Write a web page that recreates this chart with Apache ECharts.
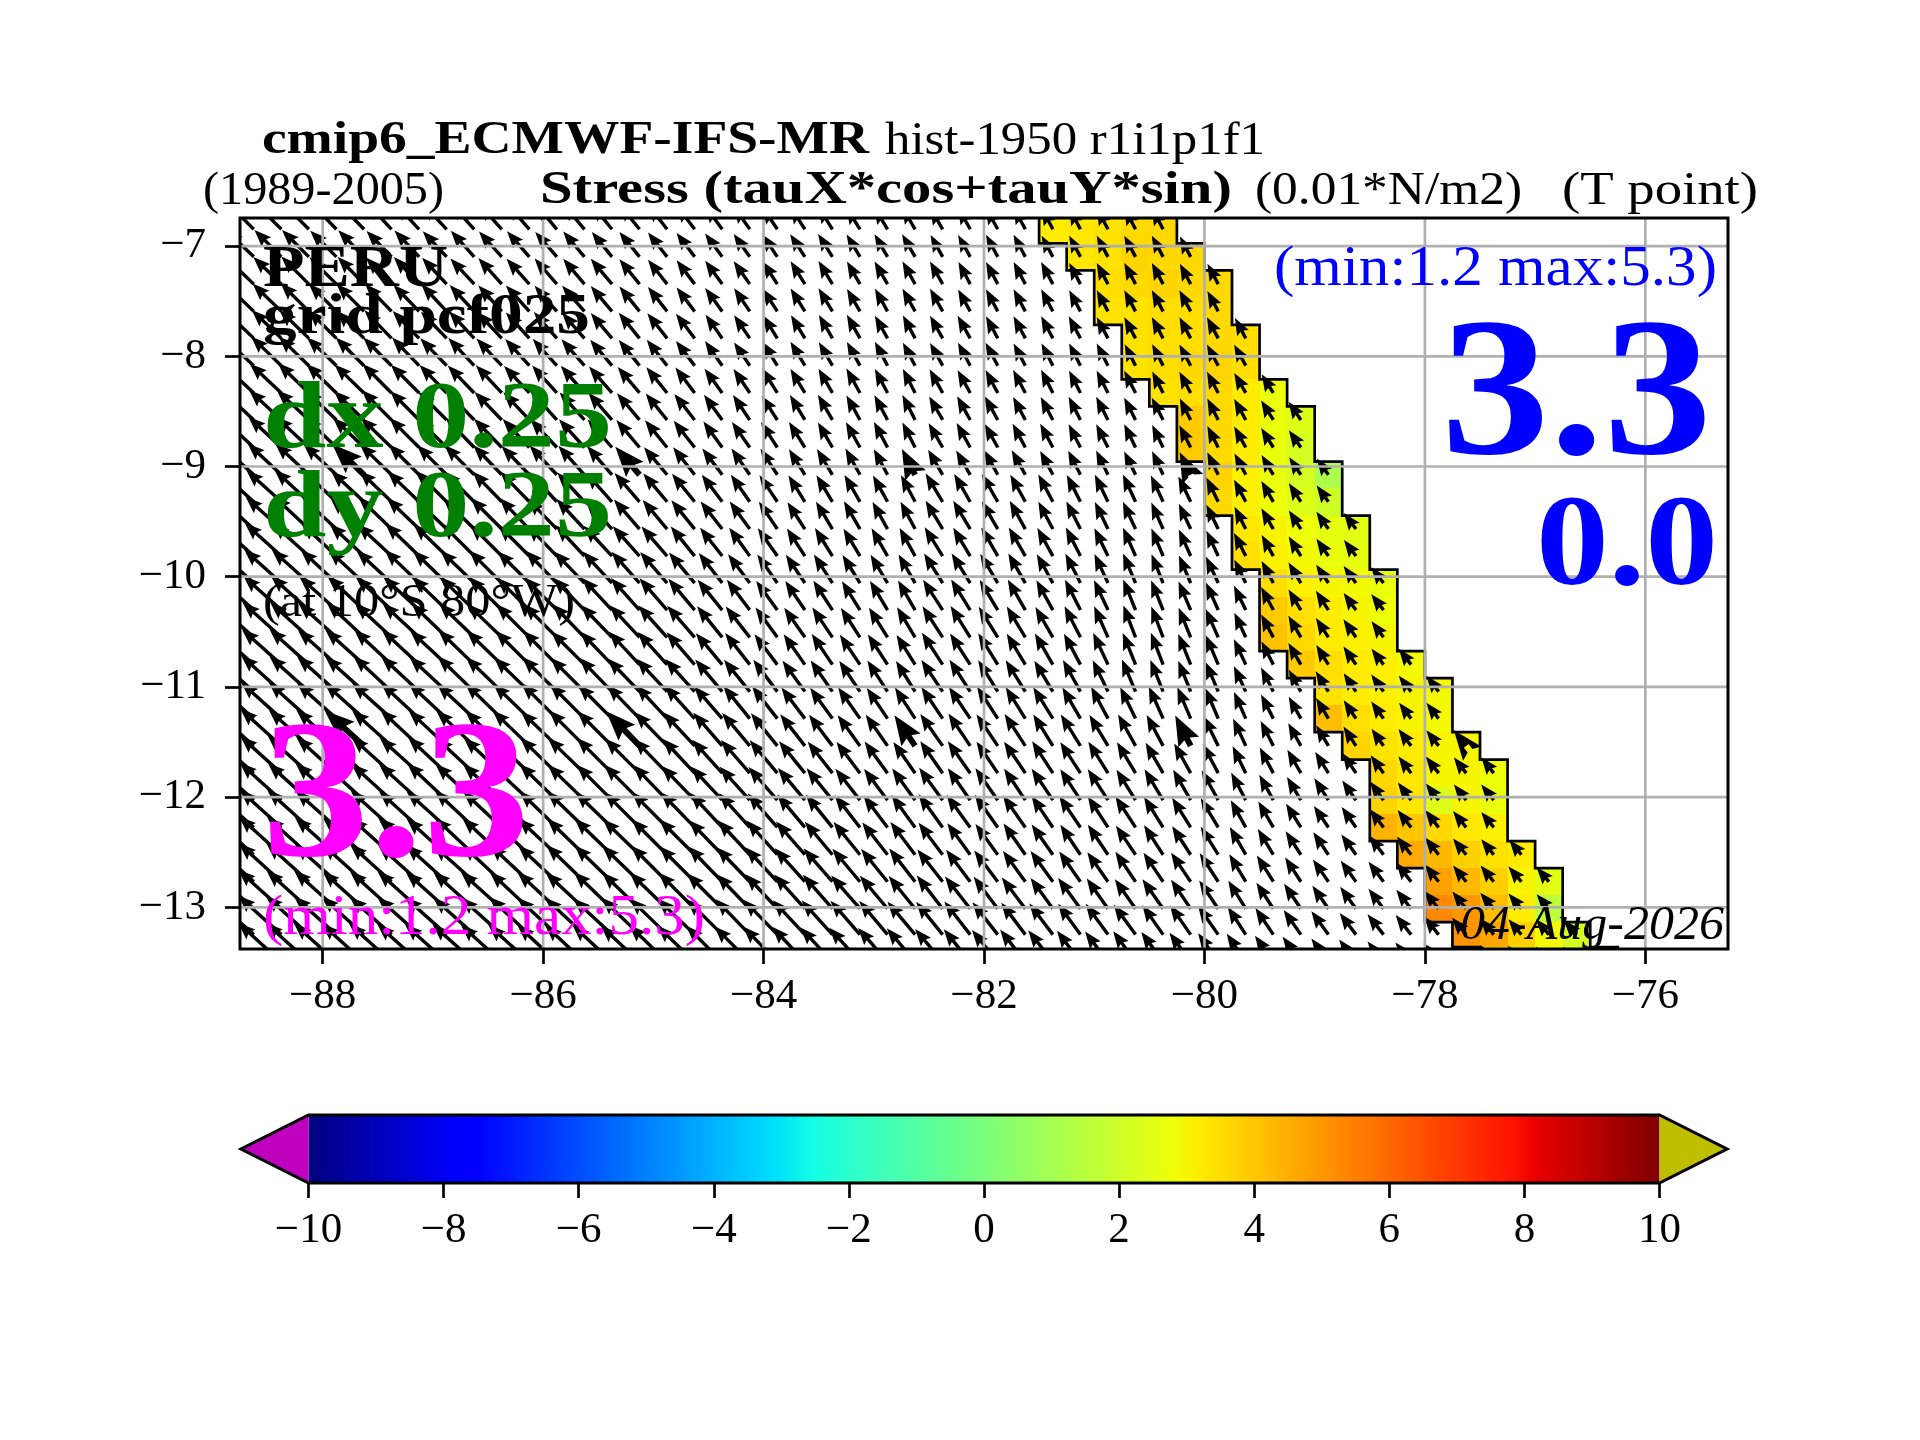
<!DOCTYPE html>
<html><head><meta charset="utf-8">
<script src="https://cdn.jsdelivr.net/npm/echarts@6/dist/echarts.min.js"></script>
<style>html,body{margin:0;padding:0;background:#fff}#c{width:1920px;height:1440px}</style></head>
<body><div id="c"></div>
<script>
const lonTicks=[-88,-86,-84,-82,-80,-78,-76];
const latTicks=[-13,-12,-11,-10,-9,-8,-7];
const cbarTicks=[-10,-8,-6,-4,-2,0,2,4,6,8,10];
const lonStart=-88.75, lonStep=0.25;
const latEdges=[-6.72,-6.975,-7.22,-7.47,-7.715,-7.96,-8.21,-8.455,-8.70,-8.955,-9.195,-9.445,-9.69,-9.935,-10.18,-10.425,-10.675,-10.92,-11.165,-11.41,-11.66,-11.905,-12.15,-12.40,-12.645,-12.89,-13.135,-13.36,-13.63];
const oceanWest=[-81.5,-81.25,-81,-81,-80.75,-80.75,-80.5,-80.25,-80.25,-80,-80,-79.75,-79.75,-79.5,-79.5,-79.5,-79.25,-79,-79,-78.75,-78.5,-78.5,-78.5,-78.25,-78,-78,-77.75,-77.5];
const tauAlong=[
[3.2,3.3,3.4,3.6,3.6],[3.3,3.4,3.7,3.6,3.6],[3.5,3.6,3.7,3.6,3.6],[3.4,3.4,3.5,3.5,3.6],
[3.4,3.5,3.5,3.6,3.5],[3.4,3.5,3.6,3.7,3.5],[3.4,3.5,3.6,3.2,2.7],[3.9,3.6,3.2,2.7,2.4],
[3.9,3.6,3.2,2.7,2.2],[3.7,3.1,2.7,2.2,1.2],[3.6,3.1,2.8,2.4,2.0],[3.3,3.0,2.8,2.6,2.5],
[3.5,3.1,2.9,2.7,2.6],[3.5,3.1,3.0,2.9,2.7],[3.9,3.5,3.2,3.0,2.8],[4.1,3.6,3.2,3.1,3.0],
[3.9,3.5,3.2,3.1,2.9],[3.4,3.2,3.1,3.0,2.9],[4.2,3.5,3.2,3.0,2.9],[3.7,3.4,3.2,3.0,3.0],
[3.6,3.3,3.0,3.0,2.8],[3.7,3.3,2.4,3.0,2.7],[4.4,4.0,3.6,3.3,3.1],[4.6,4.3,3.8,3.4,3.2],
[4.8,4.3,3.8,3.0,2.5],[5.3,5.0,4.2,3.2,1.6],[5.1,4.7,3.8,2.9,2.2],[3.0,3.0,2.6,2.2,2.0]];
const tauSpeed=[
[38,38,37,37,36,36,35,35,35,34,34,33,33,32,32,31,30,29,28,27,27,27,26,26,26,25,25,25,25,24,24,24,24,24],
[39,38,38,37,37,36,36,35,35,34,34,33,33,32,32,31,30,29,28,27,27,27,26,26,26,25,25,25,25,24,24,24,24,24,23],
[40,39,39,38,38,37,37,36,35,35,34,34,33,33,32,31,30,29,28,27,27,27,26,26,26,26,25,25,25,25,24,24,24,24,23,23],
[41,40,40,39,39,38,37,37,36,35,35,34,34,33,32,31,30,29,28,27,27,27,26,26,26,26,25,25,25,25,24,24,24,24,24,23],
[42,41,41,40,39,39,38,37,37,36,35,35,34,33,33,32,31,29,28,27,27,27,27,26,26,26,26,25,25,25,25,24,24,24,24,24,23],
[43,42,42,41,40,40,39,38,38,37,36,36,35,34,33,33,31,30,28,28,28,27,27,27,26,26,26,26,25,25,25,25,24,24,24,24,24],
[44,43,43,42,41,41,40,39,38,38,37,37,36,35,34,33,32,30,29,29,28,28,28,27,27,27,26,26,26,26,25,25,25,24,24,24,23,22],
[45,44,44,43,42,42,41,40,40,39,38,38,37,36,35,34,33,31,30,29,29,29,28,28,28,27,27,27,26,26,26,26,25,25,24,24,24,23,22],
[46,45,45,44,43,43,42,41,41,40,39,39,38,37,36,35,34,32,31,30,30,29,29,29,28,28,28,27,27,27,26,26,26,25,25,24,24,23,21],
[47,46,46,45,44,44,43,42,42,41,40,40,39,38,37,36,35,33,32,31,30,30,30,29,29,29,28,28,28,27,27,27,26,26,25,25,24,23,21,20],
[48,47,47,46,45,45,44,44,43,42,42,41,40,39,38,37,36,34,33,32,31,31,31,30,30,33,32,32,31,31,30,30,30,29,28,27,25,24,22,20],
[49,48,48,47,46,46,45,45,44,44,43,42,41,40,39,38,37,35,34,33,32,32,32,31,31,33,33,32,32,31,31,30,30,29,28,27,25,24,22,21,20],
[50,49,49,48,47,47,47,46,46,45,44,43,42,41,40,39,38,36,35,34,33,33,32,32,32,34,33,33,33,32,32,31,31,30,29,28,26,24,23,21,20],
[51,50,50,49,49,48,48,47,47,46,45,45,44,43,42,41,40,38,36,35,34,34,33,33,33,35,35,34,34,33,33,32,32,31,30,29,26,25,24,22,21,20],
[52,51,51,50,50,49,49,48,48,47,46,46,45,44,43,42,41,39,38,36,35,35,34,34,34,36,36,35,35,34,34,33,33,32,31,30,27,26,24,23,21,20],
[53,52,52,51,51,50,50,49,49,48,47,47,46,45,44,43,42,40,39,37,36,36,35,35,35,37,37,36,36,35,35,34,34,33,32,31,27,26,25,23,22,20],
[54,53,53,52,52,51,51,50,50,49,48,48,47,46,45,44,43,41,40,38,37,37,36,36,35,38,37,37,36,36,35,35,34,34,33,32,28,26,25,23,22,20,20],
[54,54,53,53,52,52,52,51,51,50,49,49,48,47,46,45,44,42,41,40,38,38,37,37,36,38,38,37,37,36,36,35,35,34,33,32,28,27,25,24,22,21,20,20],
[55,54,54,53,53,53,52,52,51,51,50,50,49,48,47,46,45,43,42,41,39,38,38,37,37,38,38,38,37,37,36,36,35,35,34,33,29,27,25,24,22,21,20,20],
[55,55,54,54,53,53,53,52,52,51,51,50,50,49,48,47,46,44,43,42,40,39,38,38,37,39,39,38,38,37,37,36,36,35,34,33,30,28,26,24,23,21,21,20,20],
[56,55,55,54,54,54,53,53,52,52,52,51,51,50,49,48,47,45,44,43,41,40,39,39,38,39,39,38,38,38,37,37,36,35,34,33,30,29,27,25,24,22,21,21,20,20],
[56,56,55,55,55,54,54,54,53,53,52,52,51,50,50,49,48,46,45,44,42,41,40,39,39,40,39,39,38,38,37,37,36,36,35,34,31,29,27,26,24,23,22,21,20,20],
[57,56,56,55,55,55,54,54,54,53,53,52,52,51,50,50,49,47,46,45,43,42,41,40,40,41,40,40,39,38,38,37,37,36,35,34,31,30,28,26,25,23,22,22,21,20],
[57,57,56,56,55,55,55,54,54,54,53,53,52,52,51,50,50,48,47,46,44,43,42,41,41,40,39,38,38,37,36,36,35,35,34,33,32,30,28,27,25,24,23,22,21,20,19],
[58,57,57,56,56,56,55,55,55,54,54,53,53,52,52,51,50,49,48,47,45,44,43,42,42,41,40,39,38,38,37,36,36,35,35,34,32,31,29,27,26,25,24,22,21,21,20,19],
[58,58,57,57,56,56,56,55,55,55,54,54,53,53,52,52,51,50,48,47,46,45,44,43,42,42,41,40,39,38,38,37,36,36,35,34,33,31,30,28,27,25,24,23,22,21,20,19],
[58,58,58,57,57,56,56,56,55,55,55,54,54,53,53,52,52,50,49,48,47,46,45,44,43,42,42,41,40,39,38,38,37,36,36,35,33,32,30,29,27,26,25,23,22,21,20,20,19],
[58,58,58,57,57,57,56,56,56,55,55,54,54,54,53,53,52,51,50,49,48,47,46,45,44,43,42,41,41,40,39,38,38,37,36,35,34,32,31,29,28,26,25,24,23,22,21,20,20,19]];
const tauAngle=[
[135,135,135,134,134,133,133,133,132,132,131,130,130,129,129,128,127,126,125,124,123,122,122,121,120,120,119,119,118,118,118,118,118,118],
[136,135,135,135,134,134,133,133,132,132,131,131,130,129,129,128,127,126,125,124,123,122,121,120,120,119,119,118,118,118,118,118,118,118,118],
[136,136,135,135,134,134,133,133,133,132,132,131,130,130,129,128,127,126,125,123,122,121,120,120,119,119,118,118,118,118,118,118,118,118,118,118],
[136,136,135,135,135,134,134,133,133,132,132,131,131,130,129,128,127,126,124,123,122,121,120,119,119,119,119,118,118,118,118,118,118,118,118,118],
[136,136,136,135,135,134,134,134,133,133,132,131,131,130,129,128,127,125,124,122,121,120,119,119,118,119,119,118,118,118,118,118,118,118,118,118,118],
[137,136,136,136,135,135,134,134,133,133,132,132,131,130,129,128,127,125,124,122,121,120,119,118,118,119,118,118,118,117,117,117,117,117,118,118,119],
[137,137,136,136,136,135,135,134,134,133,133,132,131,131,130,129,127,126,124,122,121,120,119,118,117,119,119,118,118,117,117,117,117,117,118,118,120,122],
[137,137,137,136,136,135,135,135,134,134,133,132,132,131,130,129,128,126,124,123,121,120,119,118,117,120,119,119,118,118,117,117,117,117,117,117,119,122,124],
[137,137,137,136,136,136,135,135,134,134,133,133,132,131,130,129,128,126,125,123,122,120,119,118,117,120,119,119,118,118,117,117,116,116,117,117,119,122,125],
[138,137,137,137,136,136,135,135,135,134,134,133,132,131,131,130,128,127,125,123,122,121,119,118,117,120,120,119,119,118,117,116,116,115,116,116,118,121,124,126],
[138,138,137,137,137,136,136,135,135,134,134,133,133,132,131,130,129,127,125,124,122,121,120,119,118,121,120,120,119,118,117,116,115,115,116,116,118,120,123,126],
[138,138,137,137,137,136,136,136,135,135,134,134,133,132,131,130,129,128,126,124,123,121,120,119,118,121,121,120,119,118,117,116,115,114,115,116,117,120,123,125,127],
[138,138,138,137,137,137,136,136,135,135,135,134,133,133,132,131,129,128,126,125,123,122,121,120,119,122,121,120,120,119,117,116,114,113,114,115,117,119,122,125,127],
[138,138,138,137,137,137,136,136,136,135,135,134,134,133,132,131,130,128,127,125,124,123,122,121,120,122,122,121,120,119,117,115,113,112,113,115,116,118,121,124,126,128],
[138,138,138,138,137,137,137,136,136,135,135,135,134,133,132,131,130,129,127,126,124,123,122,121,120,123,122,121,120,119,117,115,112,112,113,114,116,118,121,123,126,128],
[138,138,138,138,137,137,137,136,136,136,135,135,134,134,133,132,131,129,128,126,125,124,123,122,121,123,122,122,121,120,117,114,111,111,112,114,115,118,120,123,125,127],
[138,138,138,138,138,137,137,137,136,136,135,135,135,134,133,132,131,130,128,127,125,124,124,123,122,123,123,122,121,120,118,115,112,111,112,113,115,117,120,122,125,127,128],
[138,138,138,138,138,137,137,137,136,136,136,135,135,134,134,133,132,130,129,127,126,125,124,123,122,124,123,122,122,121,119,116,113,112,112,113,115,117,119,122,124,126,128,128],
[138,138,138,138,138,138,137,137,137,136,136,135,135,135,134,133,132,131,129,128,127,126,125,124,123,124,124,123,122,122,120,118,116,114,113,113,114,117,119,121,124,126,127,128],
[138,138,138,138,138,138,137,137,137,136,136,136,135,135,134,134,133,131,130,129,128,127,126,125,124,125,124,124,123,122,122,121,119,118,117,116,115,117,119,121,123,125,127,128,128],
[138,138,138,138,138,138,138,137,137,137,136,136,136,135,135,134,133,132,131,130,129,128,127,126,125,125,125,124,124,123,123,122,121,120,119,118,116,118,120,122,124,126,127,128,128,128],
[138,138,138,138,138,138,138,137,137,137,137,136,136,135,135,134,134,133,132,131,130,129,128,127,126,126,125,125,124,124,123,123,122,121,120,119,118,119,121,123,125,126,127,128,128,129],
[138,138,138,138,138,138,138,138,137,137,137,136,136,136,135,135,134,133,132,131,130,129,128,127,126,126,126,125,125,124,124,123,123,122,122,121,119,120,122,124,125,127,128,128,129,129],
[138,138,138,138,138,138,138,138,137,137,137,137,136,136,136,135,135,134,133,132,131,130,129,128,127,127,126,126,125,125,124,124,124,123,123,122,120,121,123,124,126,127,128,128,129,129,129],
[138,138,138,138,138,138,138,138,138,137,137,137,136,136,136,135,135,134,134,133,132,131,130,129,128,128,127,127,126,126,125,125,124,124,124,123,121,122,123,125,126,127,128,129,129,129,130,130],
[138,138,138,138,138,138,138,138,138,138,137,137,137,136,136,136,135,135,134,133,132,131,131,130,129,128,128,127,127,126,126,125,125,125,124,124,122,123,124,125,126,127,128,129,129,130,130,130],
[138,138,138,138,138,138,138,138,138,138,137,137,137,137,136,136,136,135,134,134,133,132,131,130,130,129,128,128,127,127,126,126,126,125,125,125,123,124,125,126,127,128,128,129,130,130,130,130,131],
[138,138,138,138,138,138,138,138,138,138,138,137,137,137,137,136,136,135,135,134,133,133,132,131,130,130,129,129,128,128,127,127,126,126,126,125,124,125,126,126,127,128,129,129,130,130,130,131,131,131]];
const boldRows=[9,19];
const boldCols=[4,14,24,34,44];

const jetStops=[[0,0,0,127],[.11,0,0,255],[.125,0,0,255],[.34,0,219,255],[.35,0,230,247],[.375,21,255,226],[.64,238,255,8],[.65,247,245,0],[.66,255,236,0],[.89,255,19,0],[.91,232,0,0],[1,127,0,0]];
function jet(v){const t=Math.min(1,Math.max(0,(v+10)/20));
  for(let i=1;i<jetStops.length;i++){const a=jetStops[i-1],b=jetStops[i];
    if(t<=b[0]){const f=(t-a[0])/(b[0]-a[0]);return `rgb(${[1,2,3].map(k=>Math.round(a[k]+f*(b[k]-a[k]))).join(',')})`;}}
  return 'rgb(127,0,0)';}

const FONT='"Liberation Serif"';
const heatData=[];
tauAlong.forEach((row,r)=>row.forEach((v,c)=>{const w=oceanWest[r]+c*lonStep;heatData.push([w,latEdges[r],w+lonStep,latEdges[r+1],v]);}));
const arrowData=[];
tauSpeed.forEach((row,r)=>row.forEach((s,c)=>{
  const bold=boldRows.includes(r)&&boldCols.includes(c)?1:0;
  arrowData.push([lonStart+lonStep*(c+.5),(latEdges[r]+latEdges[r+1])/2,s,tauAngle[r][c],bold]);}));

const PXDEG=110.2, SHAFT=3.4;
function renderArrow(p,api){
  const tail=api.coord([api.value(0),api.value(1)]);
  const a=api.value(3)*Math.PI/180,s=api.value(2)/PXDEG;
  const tip=api.coord([api.value(0)+s*Math.cos(a),api.value(1)+s*Math.sin(a)]);
  const k=api.value(4)?1.75:1,w=SHAFT*k,hl=5*SHAFT*k,ha=4.4*SHAFT*k,hw=3.9*SHAFT*k;
  const dx=tip[0]-tail[0],dy=tip[1]-tail[1],L=Math.hypot(dx,dy),ux=dx/L,uy=dy/L,nx=-uy,ny=ux;
  const P=(d,o)=>[tail[0]+ux*d+nx*o,tail[1]+uy*d+ny*o];
  return {type:'polygon',shape:{points:[P(0,w/2),P(L-ha,w/2),P(L-hl,hw/2),P(L,0),P(L-hl,-hw/2),P(L-ha,-w/2),P(0,-w/2)]},style:{fill:'#000'}};
}
function renderCell(p,api){
  const a=api.coord([api.value(0),api.value(1)]),b=api.coord([api.value(2),api.value(3)]);
  const x=Math.round(a[0]),y=Math.round(a[1]);
  return {type:'rect',shape:{x,y,width:Math.round(b[0])-x,height:Math.round(b[1])-y},style:{fill:jet(api.value(4))}};
}
function renderCoast(p,api){
  const pts=[];
  oceanWest.forEach((w,r)=>{const e=w+lonStep*5;pts.push(api.coord([e,latEdges[r]]),api.coord([e,latEdges[r+1]]));});
  for(let r=oceanWest.length-1;r>=0;r--){pts.push(api.coord([oceanWest[r],latEdges[r+1]]),api.coord([oceanWest[r],latEdges[r]]));}
  return {type:'polygon',shape:{points:pts},style:{fill:null,stroke:'#000',lineWidth:2.7}};
}
function renderGridLine(p,api){
  const isLon=api.value(1)===0,v=api.value(0);
  const a=isLon?api.coord([v,-13.378]):api.coord([-88.75,v]),b=isLon?api.coord([v,-6.745]):api.coord([-75.25,v]);
  return {type:'line',shape:{x1:a[0],y1:a[1],x2:b[0],y2:b[1]},style:{stroke:'#b0b0b0',lineWidth:2.7}};
}
function renderCbar(p,api){
  const a=api.coord([-10,1]),b=api.coord([10,0]),tl=api.coord([-11,.5]),tr=api.coord([11,.5]);
  const grad=new echarts.graphic.LinearGradient(0,0,1,0,jetStops.map(s=>({offset:s[0],color:`rgb(${s[1]},${s[2]},${s[3]})`})));
  return {type:'group',children:[
    {type:'rect',shape:{x:a[0],y:a[1],width:b[0]-a[0],height:b[1]-a[1]},style:{fill:grad}},
    {type:'polygon',shape:{points:[[a[0],a[1]],tl,[a[0],b[1]]]},style:{fill:'#bf00bf'}},
    {type:'polygon',shape:{points:[[b[0],a[1]],tr,[b[0],b[1]]]},style:{fill:'#bfbf00'}},
    {type:'polygon',shape:{points:[[a[0],a[1]],[b[0],a[1]],tr,[b[0],b[1]],[a[0],b[1]],tl]},style:{fill:null,stroke:'#000',lineWidth:3}}
  ]};
}
const mctx=document.createElement('canvas').getContext('2d');
function txt(text,x0,x1,base,size,color,weight,italic){
  const font=`${italic?'italic ':''}${weight?'bold ':''}${size}px ${FONT}`;
  mctx.font=font;const w=mctx.measureText(text).width;
  return {type:'text',z:100,silent:true,x:x0,y:base-size*0.25,scaleX:(x1-x0)/w,
    style:{text,x:0,y:0,font,fill:color,textAlign:'left',textVerticalAlign:'middle'}};
}
const labels=[
 txt('cmip6_ECMWF-IFS-MR',262,869,153,46,'#000',1),
 txt('hist-1950 r1i1p1f1',885,1265,153,46,'#000',0),
 txt('(1989-2005)',203,444,203,46,'#000',0),
 txt('Stress (tauX*cos+tauY*sin)',540,1232,203,46,'#000',1),
 txt('(0.01*N/m2)',1255,1522,203,46,'#000',0),
 txt('(T point)',1562,1758,203,46,'#000',0),
 txt('PERU',263,448,285,60,'#000',1),
 txt('grid pcf025',263,590,333,58,'#000',1),
 txt('dx 0.25',263,612,446,96,'#008000',1),
 txt('dy 0.25',263,612,535,96,'#008000',1),
 txt('(at 10°S 80°W)',263,575,615,46,'#000',0),
 txt('3.3',262,530,853,197,'#ff00ff',1),
 txt('(min:1.2 max:5.3)',263,705,933,58,'#ff00ff',0),
 txt('(min:1.2 max:5.3)',1274,1717,284,58,'#0000ff',0),
 txt('3.3',1441,1712,451,197,'#0000ff',1),
 txt('0.0',1536,1718,583,130,'#0000ff',1),
 txt('04-Aug-2026',1460,1724,938,48,'#000',0,1)
];
const fmt=v=>String(v).replace('-','\u2212');
const tickStyle={length:15,lineStyle:{color:'#000',width:2.7}};
const chart=echarts.init(document.getElementById('c'),null,{renderer:'canvas',width:1920,height:1440});
chart.setOption({
 animation:false,backgroundColor:'#fff',
 grid:[{left:240,top:218,width:1488,height:731,show:true,z:20,backgroundColor:'transparent',borderColor:'#000',borderWidth:3},
       {left:308.5,top:1115,width:1351,height:68}],
 xAxis:[
  {type:'value',gridIndex:0,min:-88.75,max:-75.25,splitLine:{show:false},axisLine:{show:false},
   axisTick:Object.assign({customValues:lonTicks},tickStyle),
   axisLabel:{customValues:lonTicks,formatter:fmt,fontFamily:FONT,fontSize:43,color:'#000',margin:26}},
  {type:'value',gridIndex:1,min:-10,max:10,interval:2,splitLine:{show:false},axisLine:{show:false},
   axisTick:tickStyle,
   axisLabel:{formatter:fmt,fontFamily:FONT,fontSize:43,color:'#000',margin:26,showMinLabel:true,showMaxLabel:true}}],
 yAxis:[
  {type:'value',gridIndex:0,min:-13.378,max:-6.745,splitLine:{show:false},axisLine:{show:false},
   axisTick:Object.assign({customValues:latTicks},tickStyle),
   axisLabel:{customValues:latTicks,formatter:fmt,fontFamily:FONT,fontSize:43,color:'#000',margin:34,padding:[7,0,0,0]}},
  {type:'value',gridIndex:1,min:0,max:1,show:false}],
 series:[
  {type:'custom',name:'tau along coast',xAxisIndex:0,yAxisIndex:0,coordinateSystem:'cartesian2d',clip:true,z:2,silent:true,renderItem:renderCell,data:heatData},
  {type:'custom',name:'coast',xAxisIndex:0,yAxisIndex:0,coordinateSystem:'cartesian2d',clip:true,z:3,silent:true,renderItem:renderCoast,data:[[-80,-10]]},
  {type:'custom',name:'stress',xAxisIndex:0,yAxisIndex:0,coordinateSystem:'cartesian2d',clip:true,z:4,silent:true,renderItem:renderArrow,data:arrowData},
  {type:'custom',name:'grid',xAxisIndex:0,yAxisIndex:0,coordinateSystem:'cartesian2d',clip:true,z:5,silent:true,renderItem:renderGridLine,
   data:lonTicks.map(v=>[v,0]).concat(latTicks.map(v=>[v,1]))},
  {type:'custom',name:'colorbar',xAxisIndex:1,yAxisIndex:1,coordinateSystem:'cartesian2d',clip:false,z:2,silent:true,renderItem:renderCbar,data:[[0,.5]]}
 ],
 graphic:{elements:labels}
});
</script></body></html>
